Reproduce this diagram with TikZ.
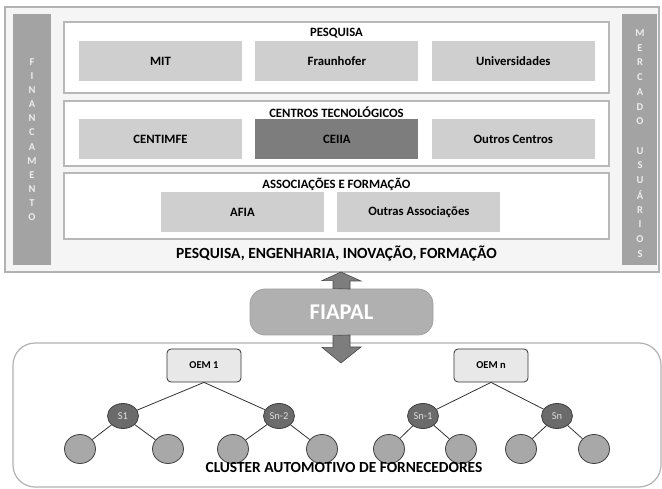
\documentclass[tikz,border=0pt]{standalone}
\usepackage{fontspec}
\setmainfont{Carlito}
\usetikzlibrary{positioning,shapes.geometric}
\definecolor{fundo}{gray}{0.96}
\definecolor{barra}{gray}{0.64}
\definecolor{caixa}{gray}{0.81}
\definecolor{escuro}{gray}{0.49}
\definecolor{borda}{gray}{0.72}
\definecolor{fornec}{gray}{0.42}
\definecolor{folhacor}{gray}{0.66}
\tikzset{
  painel/.style={draw=borda, line width=1.5pt, fill=white},
  caixa/.style={fill=caixa, minimum width=163pt, minimum height=40pt, inner sep=0pt, font=\bfseries\fontsize{12.7}{14}\selectfont},
  titulo/.style={font=\bfseries\fontsize{12.7}{14}\selectfont},
  letra/.style={text=gray!15, inner sep=0pt, font=\bfseries\fontsize{10.5}{12}\selectfont},
  oem/.style={draw=black!80, fill=gray!18, rounded corners=4pt, line width=0.8pt, minimum width=74pt, minimum height=33pt, font=\bfseries\fontsize{10.5}{12}\selectfont},
  forn/.style={ellipse, draw=black!75, fill=fornec, line width=0.8pt, minimum width=31pt, minimum height=25pt, inner sep=0pt, text=gray!25, font=\fontsize{10.5}{12}\selectfont},
  folha/.style={ellipse, draw=black!75, fill=folhacor, line width=0.8pt, minimum width=31pt, minimum height=29pt, inner sep=0pt},
  seta/.style={fill=escuro, draw=black!70, line width=0.6pt}
}
\begin{document}
\begin{tikzpicture}[x=1pt, y=-1pt]
  \useasboundingbox[fill=white] (0,0) rectangle (662,489);
  \draw[draw=gray!60, line width=1.5pt, fill=fundo] (5,7) rectangle (659,272);
  \fill[barra] (13,14) rectangle (51,265);
  \fill[barra] (622,14) rectangle (657,265);
  \foreach \l [count=\i] in {F,I,N,A,N,C,A,M,E,N,T,O}
    \node[letra] at (32,{62+14.1*(\i-1)}) {\l};
  \foreach \l [count=\i] in {M,E,R,C,A,D,O,{},U,S,U,Á,R,I,O,S}
    \node[letra] at (640,{33+14.73*(\i-1)}) {\l};
  \draw[painel] (64,22) rectangle (609,93);
  \draw[painel] (64,101) rectangle (609,166);
  \draw[painel] (64,173) rectangle (609,239);
  \node[titulo] (pesquisa) at (336.5,33) {PESQUISA};
  \node[titulo] (centros) at (336.5,112) {CENTROS TECNOLÓGICOS};
  \node[titulo] (assoc) at (336.5,184) {ASSOCIAÇÕES E FORMAÇÃO};
  \node[caixa] (mit) at (160.5,61) {MIT};
  \node[caixa, right=13pt of mit] (fraunhofer) {Fraunhofer};
  \node[caixa, right=13pt of fraunhofer] (univ) {Universidades};
  \node[caixa] (centimfe) at (160.5,139.5) {CENTIMFE};
  \node[caixa, fill=escuro, right=13pt of centimfe] (ceiia) {CEIIA};
  \node[caixa, right=13pt of ceiia] (outros) {Outros Centros};
  \node[caixa] (afia) at (242.5,212) {AFIA};
  \node[caixa, right=13pt of afia] (outrasassoc) {Outras Associações};
  \node[font=\bfseries\fontsize{15.5}{17}\selectfont] (peif) at (336.5,253) {PESQUISA, ENGENHARIA, INOVAÇÃO, FORMAÇÃO};
  \draw[draw=gray!60, line width=1.2pt, rounded corners=22pt] (13,343) rectangle (661,487);
  \node[fill=gray!62, draw=gray!72, line width=0.8pt, rounded corners=15pt, minimum width=183pt, minimum height=46pt, text=white, font=\bfseries\fontsize{22.5}{26}\selectfont] (fiapal) at (341.5,312) {FIAPAL};
  \draw[seta] (fiapal.north) ++(-8.5,0) -- ++(0,-8) -- ++(-11,0) -- (341,272) -- (361,281) -- ++(-11,0) -- ++(0,8) -- cycle;
  \draw[seta] (fiapal.south) ++(-8.5,0) -- ++(0,12) -- ++(-11,0) -- (341,363) -- (361,347) -- ++(-11,0) -- ++(0,-12) -- cycle;
  \node[oem] (oem1) at (204,365.5) {OEM 1};
  \node[oem] (oemn) at (491,365.5) {OEM n};
  \foreach \nome/\x/\rot/\pai/\a/\b in {s1/123/S1/oem1/80/168, sn2/279/Sn-2/oem1/233/322, sn1/423/Sn-1/oemn/389/461, sn/557/Sn/oemn/521/594} {
    \node[forn] (\nome) at (\x,416) {\rot};
    \node[folha] (\nome a) at (\a,449) {};
    \node[folha] (\nome b) at (\b,449) {};
    \draw[line width=0.8pt, black!80] (\pai.south) -- (\nome) (\nome) -- (\nome a) (\nome) -- (\nome b);
  }
  \node[font=\bfseries\fontsize{15.4}{17}\selectfont] (cluster) at (344,468) {CLUSTER AUTOMOTIVO DE FORNECEDORES};
\end{tikzpicture}
\end{document}
